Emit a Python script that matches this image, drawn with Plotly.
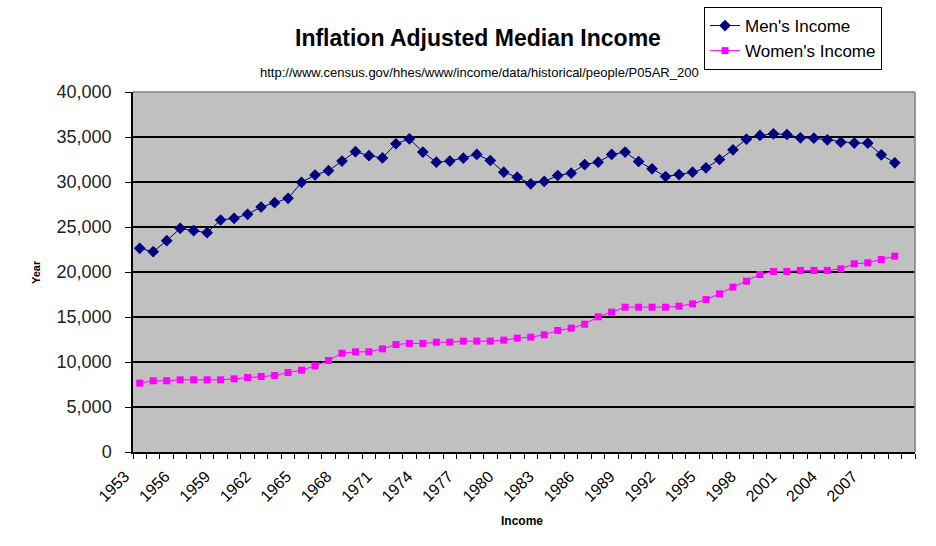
import plotly.graph_objects as go

years = [1953, 1954, 1955, 1956, 1957, 1958, 1959, 1960, 1961, 1962,
         1963, 1964, 1965, 1966, 1967, 1968, 1969, 1970, 1971, 1972,
         1973, 1974, 1975, 1976, 1977, 1978, 1979, 1980, 1981, 1982,
         1983, 1984, 1985, 1986, 1987, 1988, 1989, 1990, 1991, 1992,
         1993, 1994, 1995, 1996, 1997, 1998, 1999, 2000, 2001, 2002,
         2003, 2004, 2005, 2006, 2007, 2008, 2009]

mens_income = [22630, 22260, 23480, 24850, 24590, 24370, 25780, 25960, 26410, 27220,
               27700, 28190, 29960, 30780, 31260, 32330, 33370, 32930, 32670, 34250,
               34800, 33320, 32200, 32320, 32650, 33060, 32390, 31090, 30540, 29800,
               30060, 30720, 30980, 31940, 32200, 33060, 33320, 32280, 31460, 30610,
               30830, 31090, 31570, 32500, 33570, 34760, 35170, 35350, 35280, 34910,
               34870, 34690, 34430, 34320, 34320, 33020, 32130]

womens_income = [7650, 7910, 7910, 8020, 8020, 8020, 8020, 8130, 8280, 8390,
                 8500, 8830, 9090, 9570, 10170, 10980, 11130, 11130, 11460, 11940,
                 12060, 12060, 12200, 12200, 12320, 12320, 12320, 12430, 12650, 12760,
                 13020, 13500, 13760, 14200, 15020, 15540, 16090, 16090, 16090, 16090,
                 16200, 16460, 16940, 17570, 18320, 18980, 19720, 20060, 20060, 20170,
                 20170, 20170, 20350, 20910, 21020, 21390, 21760]

label_years = [1953, 1956, 1959, 1962, 1965, 1968, 1971, 1974, 1977, 1980,
               1983, 1986, 1989, 1992, 1995, 1998, 2001, 2004, 2007]
y_ticks = [0, 5000, 10000, 15000, 20000, 25000, 30000, 35000, 40000]

FONT = "Liberation Sans, Arial, sans-serif"

fig = go.Figure()
fig.add_trace(go.Scatter(
    x=years, y=mens_income, name="Men's Income", mode="lines+markers",
    line=dict(color="#000080", width=1),
    marker=dict(symbol="diamond", size=9, color="#000080"),
))
fig.add_trace(go.Scatter(
    x=years, y=womens_income, name="Women's Income", mode="lines+markers",
    line=dict(color="#FF00FF", width=1),
    marker=dict(symbol="square", size=7, color="#FF00FF"),
))

fig.update_layout(
    width=936, height=546,
    margin=dict(l=133, r=21, t=92, b=94, autoexpand=False),
    paper_bgcolor="white",
    plot_bgcolor="#C0C0C0",
    font=dict(family=FONT, color="black"),
    showlegend=True,
    legend=dict(
        xref="container", yref="container",
        x=704 / 936, y=1 - 7 / 546, xanchor="left", yanchor="top",
        bgcolor="white", bordercolor="black", borderwidth=1,
        font=dict(size=17, family=FONT, color="black"),
        tracegroupgap=0, itemwidth=30,
    ),
    xaxis=dict(
        range=[1952.5, 2010.5], automargin=False,
        tickmode="array", tickvals=label_years,
        ticktext=[str(v) for v in label_years],
        tickangle=-45, ticks="",
        ticklabelstandoff=7, ticklabelshift=-15,
        tickfont=dict(size=16, family=FONT, color="black"),
        showgrid=False, zeroline=False,
        showline=True, linecolor="black", linewidth=1.5,
        minor=dict(ticks="outside", tickmode="linear", tick0=1952.5, dtick=1,
                   ticklen=5, tickcolor="black", tickwidth=1, showgrid=False),
    ),
    yaxis=dict(
        range=[0, 40000], automargin=False,
        tickmode="array", tickvals=y_ticks,
        ticktext=[f"{v:,}" for v in y_ticks],
        ticks="outside", ticklen=6, tickcolor="black",
        ticklabelstandoff=10,
        tickfont=dict(size=18, family=FONT, color="#222222"),
        showgrid=True, gridcolor="black", gridwidth=1.5,
        zeroline=False,
        showline=True, linecolor="black", linewidth=1.5,
    ),
    shapes=[
        dict(type="line", xref="paper", yref="paper", x0=0, x1=1, y0=1, y1=1,
             line=dict(color="#808080", width=1.5), layer="above"),
        dict(type="line", xref="paper", yref="paper", x0=1, x1=1, y0=0, y1=1,
             line=dict(color="#808080", width=1.5), layer="above"),
    ],
    annotations=[
        dict(text="<b>Inflation Adjusted Median Income</b>", xref="paper", yref="paper",
             x=0.441, y=1.151, xanchor="center", yanchor="middle", showarrow=False,
             font=dict(size=23, family=FONT, color="black")),
        dict(text="http://www.census.gov/hhes/www/income/data/historical/people/P05AR_200",
             xref="paper", yref="paper", x=0.443, y=1.054, xanchor="center",
             yanchor="middle", showarrow=False,
             font=dict(size=13, family=FONT, color="black")),
        dict(text="<b>Year</b>", xref="paper", yref="paper", x=-0.124, y=0.5,
             xanchor="center", yanchor="middle", textangle=-90, showarrow=False,
             font=dict(size=11, family=FONT, color="black")),
        dict(text="<b>Income</b>", xref="paper", yref="paper", x=0.497, y=-0.192,
             xanchor="center", yanchor="middle", showarrow=False,
             font=dict(size=12, family=FONT, color="black")),
    ],
)

fig.write_html("out.html")
